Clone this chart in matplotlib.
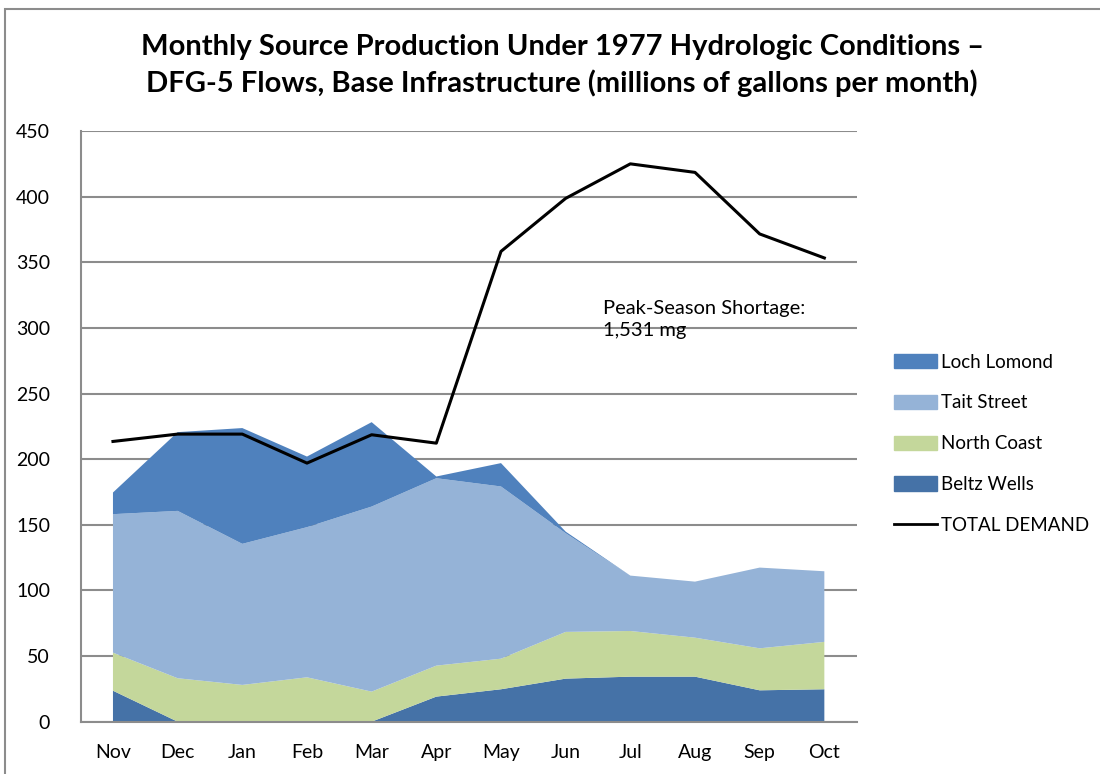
import numpy as np
import matplotlib
matplotlib.use('Agg')
import matplotlib.pyplot as plt
from matplotlib.patches import Patch, Rectangle
from matplotlib.lines import Line2D

plt.rcParams['font.family'] = ['Lato', 'DejaVu Sans']

months = ['Nov', 'Dec', 'Jan', 'Feb', 'Mar', 'Apr', 'May', 'Jun', 'Jul', 'Aug', 'Sep', 'Oct']
beltz_wells = [23.6, 0, 0, 0, 0, 19.1, 24.7, 32.8, 34.3, 34.3, 23.9, 24.7]
north_coast = [29.0, 33.1, 28.0, 33.8, 22.9, 23.6, 23.3, 35.6, 34.8, 29.7, 32.0, 36.1]
tait_street = [105.5, 127.5, 107.5, 114.4, 141.0, 142.8, 131.2, 75.2, 42.2, 42.7, 61.5, 53.8]
loch_lomond = [16.5, 60.0, 88.2, 53.8, 64.3, 1.3, 17.8, 1.2, 0, 0, 0, 0]
total_demand = [213.5, 219.1, 219.1, 197.0, 218.6, 212.2, 358.3, 398.7, 425.0, 418.5, 371.6, 353.3]

c_loch = '#4F81BD'
c_tait = '#95B3D7'
c_north = '#C4D79B'
c_beltz = '#4572A7'

fig = plt.figure(figsize=(11, 7.74), dpi=100)
ax = fig.add_axes([0.0733, 0.0676, 0.7055, 0.7631])

x = np.arange(len(months))
ax.stackplot(x, beltz_wells, north_coast, tait_street, loch_lomond,
             colors=[c_beltz, c_north, c_tait, c_loch], linewidth=0, zorder=2)
ax.plot(x, total_demand, color='black', lw=2.2, zorder=3)

ax.set_xlim(-0.5, 11.5)
ax.set_ylim(0, 450)
ax.set_yticks(range(0, 451, 50))
ax.set_xticks(x)
ax.set_xticklabels(months)
ax.tick_params(length=0, labelsize=14)
ax.tick_params(axis='x', pad=16)
ax.tick_params(axis='y', pad=22)
ax.yaxis.grid(True, color='#8c8c8c', lw=1.5, zorder=1)
ax.set_axisbelow(True)
for s in ['top', 'right']:
    ax.spines[s].set_visible(False)
for s in ['left', 'bottom']:
    ax.spines[s].set_color('#8c8c8c')
    ax.spines[s].set_linewidth(1.5)

ax.text(7.58, 321, 'Peak-Season Shortage:\n1,531 mg', fontsize=14.5, va='top', ha='left',
        linespacing=1.3)

fig.text(0.511, 0.915, 'Monthly Source Production Under 1977 Hydrologic Conditions \u2013\n'
         'DFG-5 Flows, Base Infrastructure (millions of gallons per month)',
         ha='center', va='center', fontsize=21, fontweight='bold', linespacing=1.4)

handles = [Patch(color=c_loch), Patch(color=c_tait), Patch(color=c_north),
           Patch(color=c_beltz), Line2D([], [], color='black', lw=2)]
labels = ['Loch Lomond', 'Tait Street', 'North Coast', 'Beltz Wells', 'TOTAL DEMAND']
fig.legend(handles, labels, loc='upper left', bbox_to_anchor=(0.797, 0.565), frameon=False,
           fontsize=13.5, handlelength=2.3, handleheight=0.8, labelspacing=1.27, handletextpad=0.25)

fig.patches.append(Rectangle((5 / 1100, -0.1), 1.2, 1.1 - 9 / 774, transform=fig.transFigure,
                             fill=False, edgecolor='#8c8c8c', lw=1.5))

fig.savefig('out.png', dpi=100)
